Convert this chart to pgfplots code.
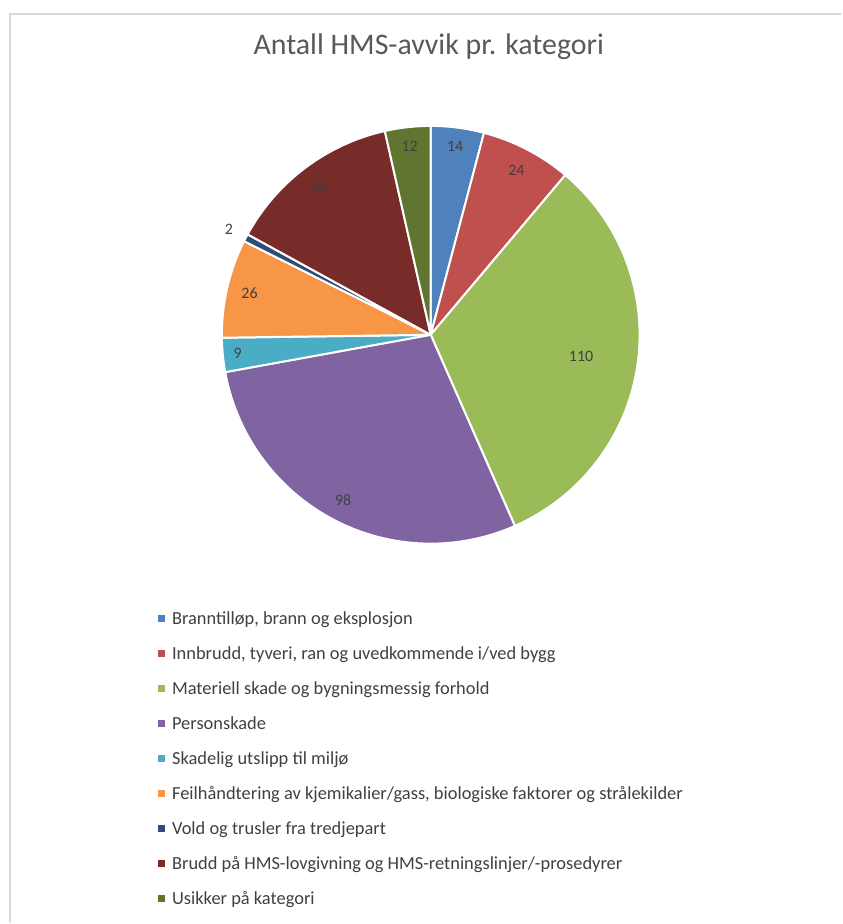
\documentclass[border=0pt]{standalone}
\usepackage{pgfplots}
\pgfplotsset{compat=1.18}
\usepackage{fontspec}
\setmainfont{Carlito}

\definecolor{c1}{HTML}{4F81BD}
\definecolor{c2}{HTML}{C0504D}
\definecolor{c3}{HTML}{9BBB59}
\definecolor{c4}{HTML}{8064A2}
\definecolor{c5}{HTML}{4BACC6}
\definecolor{c6}{HTML}{F79646}
\definecolor{c7}{HTML}{2C4D75}
\definecolor{c8}{HTML}{772C2A}
\definecolor{c9}{HTML}{5F7530}
\definecolor{txt}{HTML}{404040}

\newcommand\lblfont{\fontsize{16}{19}\selectfont}
\newcommand\legfont{\fontsize{18.5}{22}\selectfont}

\begin{document}
\begin{tikzpicture}
\begin{axis}[
    width=842bp, height=924bp, scale only axis,
    xmin=0, xmax=842, ymin=0, ymax=924,
    y dir=reverse,
    axis lines=none,
    clip=false,
  ]
  % whole page
  \path (axis cs:0,0) rectangle (axis cs:842,924);
  % frame of the chart area
  \draw[black!15, line width=1.2pt] (axis cs:10,924) -- (axis cs:10,14) -- (axis cs:842,14);
  \node[anchor=base, text=black!65, font=\fontsize{30}{36}\selectfont]
    at (axis cs:429,55) {Antall HMS-avvik pr. kategori};

  % pie: value / colour / label distance (bp)
  \xdef\cur{90}
  \foreach \v/\col/\d in {14/c1/190, 24/c2/186, 110/c3/152, 98/c4/187,
                          9/c5/194, 26/c6/186, 2/c7/228, 46/c8/185, 12/c9/190} {
    \pgfmathsetmacro\sweep{\v/341*360}
    \pgfmathsetmacro\nxt{\cur-\sweep}
    \pgfmathsetmacro\mid{\cur-\sweep/2}
    \edef\temp{\noexpand\fill[\col, draw=white, line width=2pt, line join=round]
      (axis cs:431,335) -- ++(\cur:209bp)
      arc[start angle=\cur, end angle=\nxt, radius=209bp] -- cycle;
      \noexpand\node[text=txt, font=\noexpand\lblfont]
      at ([shift={(\mid:\d bp)}]axis cs:431,335) {\v};}
    \temp
    \xdef\cur{\nxt}
  }

  % legend
  \foreach \name/\col [count=\i from 0] in {
      {Branntilløp, brann og eksplosjon}/c1,
      {Innbrudd, tyveri, ran og uvedkommende i/ved bygg}/c2,
      {Materiell skade og bygningsmessig forhold}/c3,
      {Personskade}/c4,
      {Skadelig utslipp til miljø}/c5,
      {Feilhåndtering av kjemikalier/gass, biologiske faktorer og strålekilder}/c6,
      {Vold og trusler fra tredjepart}/c7,
      {Brudd på HMS-lovgivning og HMS-retningslinjer/-prosedyrer}/c8,
      {Usikker på kategori}/c9} {
    \pgfmathsetmacro\yy{619+35*\i}
    \pgfmathsetmacro\yb{625+35*\i}
    \edef\temp{\noexpand\fill[\col] (axis cs:158,\yy) ++(0,-3.5bp) rectangle ++(7bp,7bp);
      \noexpand\node[anchor=base west, inner sep=0pt, text=txt, font=\noexpand\legfont]
      at (axis cs:172,\yb) {\name};}
    \temp
  }
\end{axis}
\end{tikzpicture}
\end{document}
